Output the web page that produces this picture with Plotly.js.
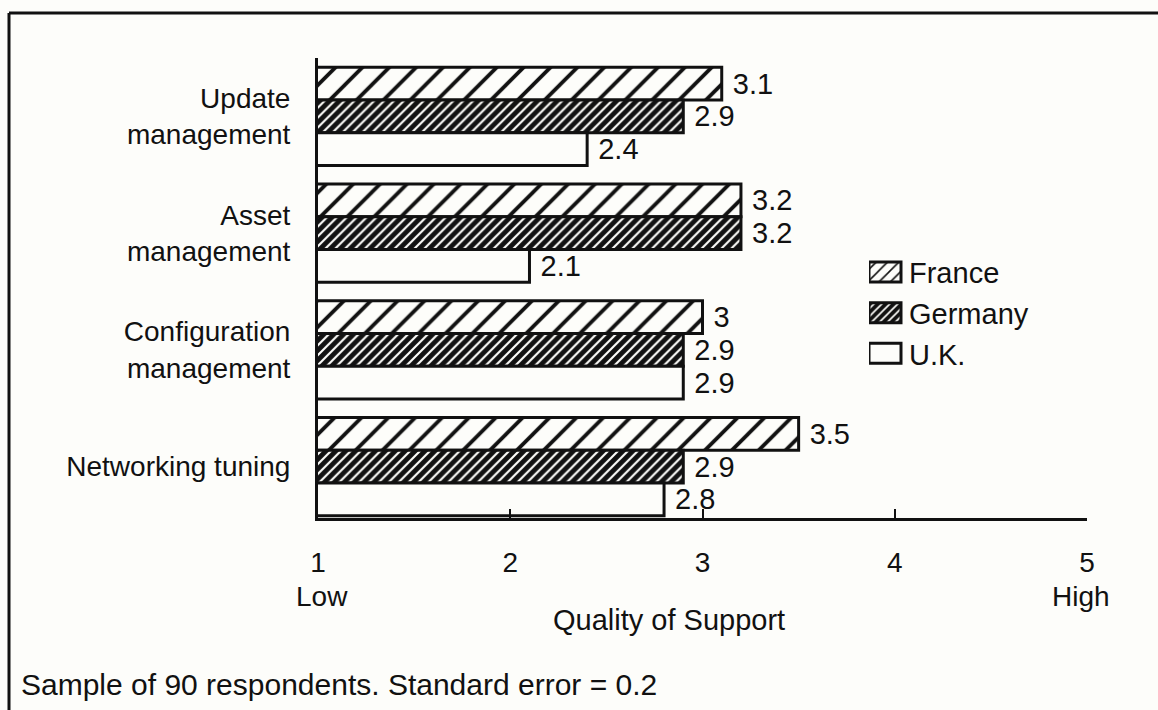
<!DOCTYPE html>
<html>
<head>
<meta charset="utf-8">
<script src="https://cdn.plot.ly/plotly-3.0.1.min.js"></script>
<style>
  html, body { margin: 0; padding: 0; background: #fdfdfa; }
  #chart { width: 1158px; height: 710px; }
</style>
</head>
<body>
<div id="chart"></div>
<script>
// categories, top to bottom
var tasks = ["Update<br>management", "Asset<br>management", "Configuration<br>management", "Networking tuning"];

// quality of support scores (1 = low, 5 = high)
var france  = [3.1, 3.2, 3.0, 3.5];
var germany = [2.9, 3.2, 2.9, 2.9];
var uk      = [2.4, 2.1, 2.9, 2.8];

var tickVals = [1, 2, 3, 4, 5];
var scaleEnds = ["Low", "High"];

var fam = "Liberation Sans, Arial, sans-serif";
var ink = "#111";
var paper = "#fdfdfa";
function f(size) { return {family: fam, size: size, color: ink}; }

function barTrace(name, values, pattern) {
    return {
        type: "bar",
        orientation: "h",
        name: name,
        y: tasks,
        x: values,
        texttemplate: " %{x}",
        textposition: "outside",
        constraintext: "none",
        textfont: f(29),
        marker: {
            color: paper,
            line: {color: ink, width: 3},
            pattern: pattern
        },
        hoverinfo: "skip"
    };
}

var data = [
    barTrace("France", france, {shape: "/", fillmode: "replace", bgcolor: paper, fgcolor: ink, size: 19, solidity: 0.2}),
    barTrace("Germany", germany, {shape: "/", fillmode: "replace", bgcolor: ink, fgcolor: paper, size: 7, solidity: 0.3}),
    barTrace("U.K.", uk, {shape: "", fillmode: "replace", bgcolor: paper})
];

// pixel helpers for the frame and loose text (plot area 318..1087 x 58..518)
function px(p) { return (p - 318) / 769; }
function py(q) { return (518 - q) / 460; }

var layout = {
    width: 1158,
    height: 710,
    margin: {l: 318, r: 71, t: 58, b: 192},
    paper_bgcolor: paper,
    plot_bgcolor: paper,
    font: f(28),
    barmode: "group",
    bargap: 0.16,
    bargroupgap: 0,
    showlegend: true,
    legend: {
        x: px(869), y: 0.59, xanchor: "left", yanchor: "top",
        bgcolor: "rgba(0,0,0,0)", font: f(29), traceorder: "normal"
    },
    xaxis: {
        range: [1, 5],
        tickvals: tickVals,
        ticks: "inside",
        ticklen: 9,
        tickwidth: 2,
        tickcolor: ink,
        ticklabelstandoff: 17,
        showline: true,
        linecolor: ink,
        linewidth: 3,
        showgrid: false,
        zeroline: false,
        tickfont: f(28),
        fixedrange: true
    },
    yaxis: {
        type: "category",
        range: [3.44, -0.5],
        showline: true,
        linecolor: ink,
        linewidth: 3,
        showgrid: false,
        ticks: "",
        ticklabelstandoff: 19,
        tickfont: f(28),
        fixedrange: true
    },
    annotations: [
        {xref: "x", yref: "paper", x: 1.02, y: py(596), text: scaleEnds[0], showarrow: false, xanchor: "center", yanchor: "middle", font: f(28)},
        {xref: "x", yref: "paper", x: 4.97, y: py(596), text: scaleEnds[1], showarrow: false, xanchor: "center", yanchor: "middle", font: f(28)},
        {xref: "paper", yref: "paper", x: px(669), y: py(620), text: "Quality of Support", showarrow: false, xanchor: "center", yanchor: "middle", font: f(29)},
        {xref: "paper", yref: "paper", x: px(19), y: py(684), text: "Sample of 90 respondents. Standard error = 0.2", showarrow: false, xanchor: "left", yanchor: "middle", font: f(30)}
    ],
    shapes: [
        {type: "line", xref: "paper", yref: "paper", x0: px(9), x1: px(1160), y0: py(13), y1: py(13), line: {color: ink, width: 3}},
        {type: "line", xref: "paper", yref: "paper", x0: px(9), x1: px(9), y0: py(13), y1: py(712), line: {color: ink, width: 3}}
    ]
};

Plotly.newPlot("chart", data, layout, {staticPlot: true}).then(function (gd) {
    // bigger legend swatches, like the printed key, with a gap before the label
    gd.querySelectorAll(".legendpoints path").forEach(function (p) {
        p.setAttribute("d", "M12,10H-20V-10H12Z");
        p.style.strokeWidth = "3px";
    });
});
</script>
</body>
</html>
